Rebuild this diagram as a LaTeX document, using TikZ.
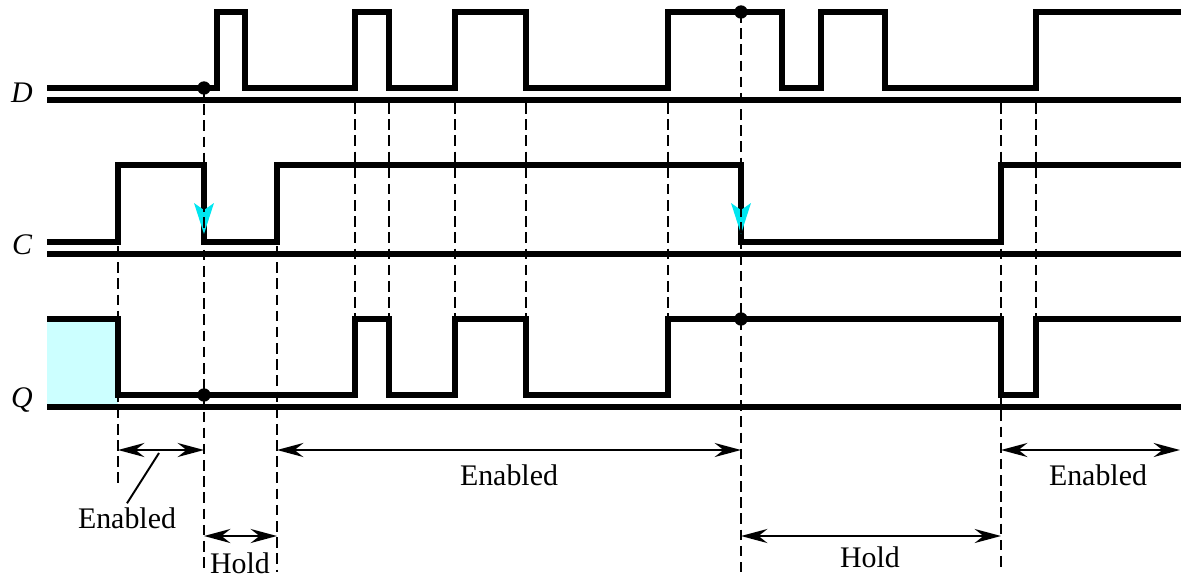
\documentclass[tikz,border=0pt]{standalone}
\usepackage{fontspec}
\setmainfont{Liberation Serif}
\usetikzlibrary{arrows.meta,calc}
\definecolor{qfill}{RGB}{204,255,255}
\definecolor{edgecol}{RGB}{0,230,240}

\begin{document}
\begin{tikzpicture}[x=0.01cm, y=-0.01cm,
  sig/.style={line width=1.6pt, line join=miter},
  base/.style={line width=1.7pt},
  guide/.style={line width=0.55pt, dash pattern=on 3pt off 1.6pt},
  span/.style={line width=0.55pt, {Stealth[length=7.5pt,width=4pt,inset=2.5pt]}-{Stealth[length=7.5pt,width=4pt,inset=2.5pt]}},
  dot/.style={circle, fill, inner sep=0pt, minimum size=3.8pt},
  lbl/.style={inner sep=1pt, font=\fontsize{8.5}{10}\selectfont}]
\useasboundingbox (0,0) rectangle (1181,575);

% old value of Q
\fill[qfill] (47,319) rectangle (118,407);

% base lines
\draw[base] (47,100) -- (1181,100);
\draw[base] (47,254) -- (1181,254);
\draw[base] (47,407) -- (1181,407);

% D
\draw[sig] (47,88) -- (217,88) -- (217,12) -- (245,12) -- (245,88) -- (355,88) -- (355,12)
  -- (389,12) -- (389,88) -- (455,88) -- (455,12) -- (526,12) -- (526,88) -- (668,88)
  -- (668,12) -- (782,12) -- (782,88) -- (821,88) -- (821,12) -- (885,12) -- (885,88)
  -- (1036,88) -- (1036,12) -- (1181,12);
% C
\draw[sig] (47,242) -- (118,242) -- (118,165) -- (204,165) -- (204,242) -- (277,242)
  -- (277,165) -- (741,165) -- (741,242) -- (1001,242) -- (1001,165) -- (1181,165);
% Q
\draw[sig] (47,319) -- (118,319) -- (118,395) -- (355,395) -- (355,319) -- (389,319)
  -- (389,395) -- (455,395) -- (455,319) -- (526,319) -- (526,395) -- (668,395)
  -- (668,319) -- (1001,319) -- (1001,395) -- (1036,395) -- (1036,319) -- (1181,319);

% falling clock edges
\fill[edgecol] (194,203) -- (204,210) -- (214,203) -- (204,234) -- cycle;
\fill[edgecol] (731,203) -- (741,210) -- (751,203) -- (741,234) -- cycle;

% guide lines
\draw[guide] (118,246) -- (118,485);
\draw[guide] (204,88) -- (204,572);
\draw[guide] (277,246) -- (277,572);
\foreach \t in {355,389,455,526,668,1036}
  \draw[guide] (\t,103) -- (\t,317);
\draw[guide] (741,12) -- (741,572);
\draw[guide] (1001,103) -- (1001,572);

% sampled values
\node[dot] (d1) at (204,88) {};
\node[dot] (q1) at (204,395) {};
\node[dot] (d2) at (741,12) {};
\node[dot] (q2) at (741,319) {};

% signal names
\node[lbl, font=\fontsize{8.5}{10}\selectfont\itshape] (nD) at (22,93) {D};
\node[lbl, font=\fontsize{8.5}{10}\selectfont\itshape] (nC) at (22,245) {C};
\node[lbl, font=\fontsize{8.5}{10}\selectfont\itshape] (nQ) at (22,400) {Q};

% intervals
\coordinate (a1) at (118,450); \coordinate (a2) at (204,450);
\coordinate (a3) at (277,450); \coordinate (a4) at (741,450);
\coordinate (a5) at (1001,450); \coordinate (a6) at (1180,450);
\coordinate (h1) at (204,536); \coordinate (h2) at (277,536);
\coordinate (h3) at (741,536); \coordinate (h4) at (1001,536);
\coordinate (p1) at (159,453);

\draw[span] (a1) -- (a2);
\draw[span] (a3) -- (a4);
\draw[span] (a5) -- (a6);
\draw[span] (h1) -- (h2);
\draw[span] (h3) -- (h4);

\node[lbl] (en1) at (127,518) {Enabled};
\node[lbl] (en2) at (509,475) {Enabled};
\node[lbl] (en3) at (1098,475) {Enabled};
\node[lbl] (ho1) at (240,563) {Hold};
\node[lbl] (ho2) at (870,557) {Hold};
\draw[line width=0.55pt] (en1.north) -- (p1);
\end{tikzpicture}
\end{document}
